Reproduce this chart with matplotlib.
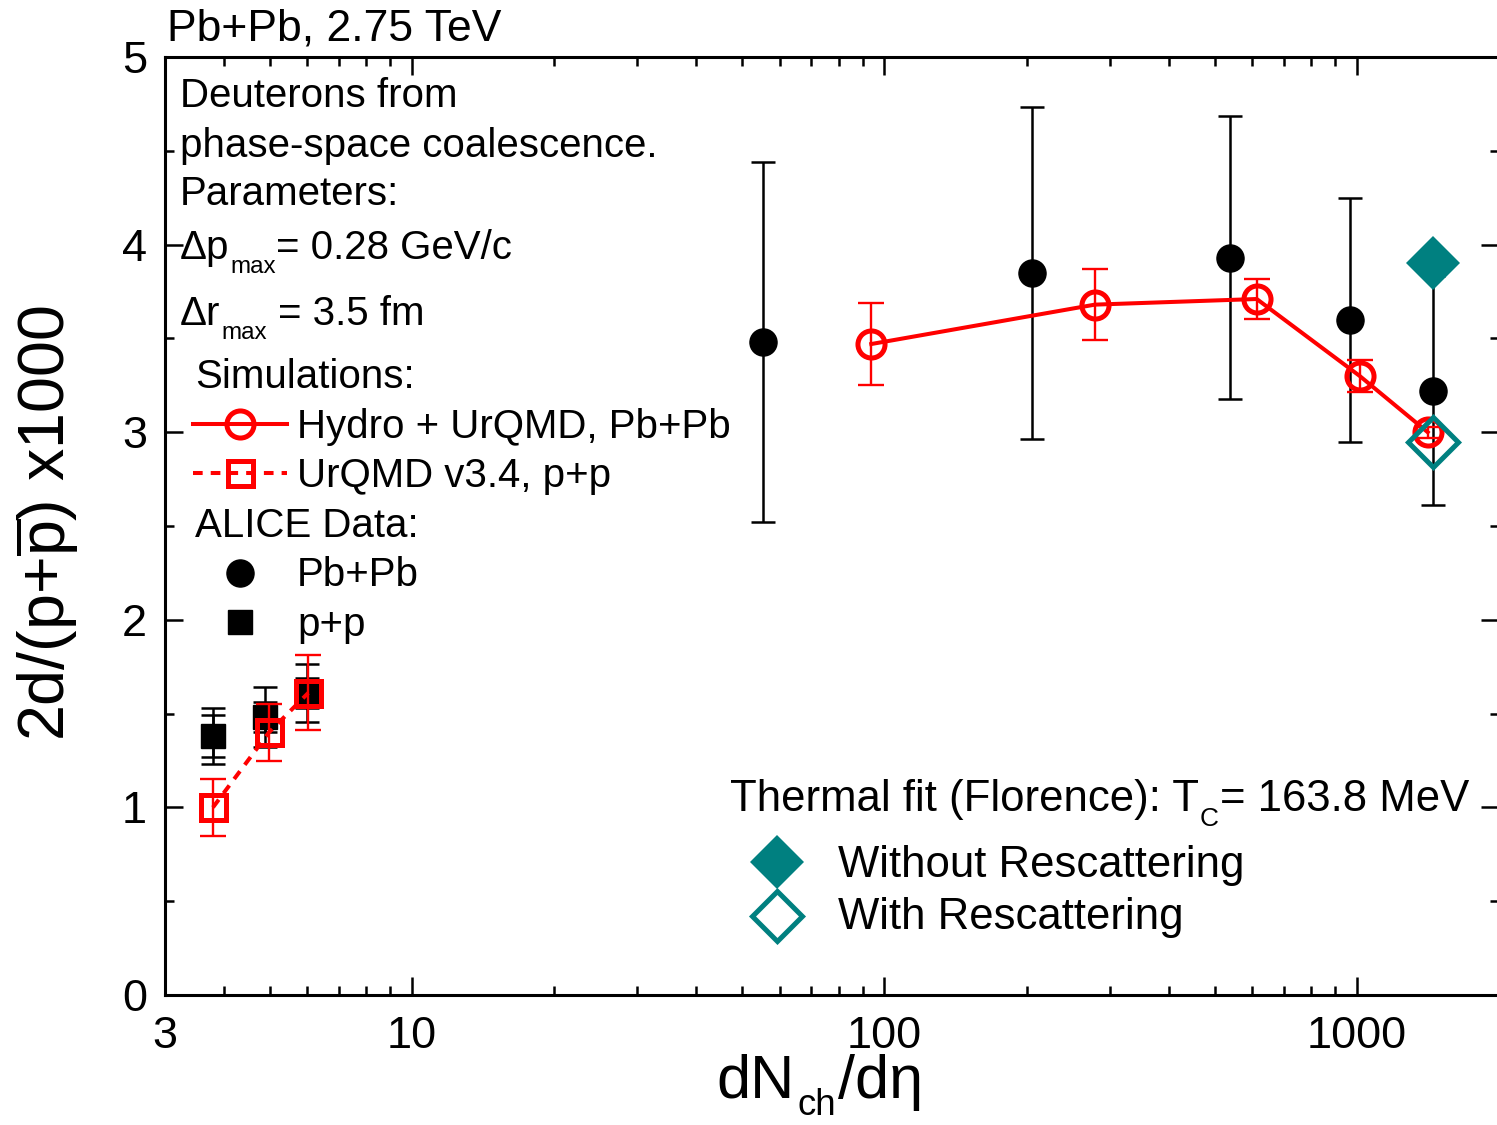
import matplotlib
matplotlib.use('Agg')
import matplotlib.pyplot as plt
from matplotlib.ticker import FixedLocator, LogLocator, MultipleLocator, NullFormatter

plt.rcParams['font.family'] = ['Liberation Sans', 'DejaVu Sans']
plt.rcParams['mathtext.fontset'] = 'custom'
plt.rcParams['mathtext.rm'] = 'Liberation Sans'
plt.rcParams['mathtext.it'] = 'Liberation Sans:italic'
plt.rcParams['mathtext.bf'] = 'Liberation Sans:bold'

# ALICE Pb+Pb
pbpb_x   = [55.4, 205, 538, 967, 1449]
pbpb_y   = [3.48, 3.85, 3.93, 3.60, 3.22]
pbpb_err = [0.96, 0.885, 0.755, 0.65, 0.61]

# ALICE p+p (stat, sys)
pp_x    = [3.79, 4.89, 6.0]
pp_y    = [1.38, 1.48, 1.61]
pp_stat = [0.11, 0.08, 0.08]
pp_sys  = [0.15, 0.16, 0.155]

# Hydro + UrQMD, Pb+Pb
hydro_x   = [93.8, 279, 614, 1014, 1413]
hydro_y   = [3.47, 3.68, 3.71, 3.30, 3.00]
hydro_err = [0.22, 0.19, 0.105, 0.085, 0.03]

# UrQMD v3.4, p+p
urqmd_x   = [3.79, 4.98, 6.03]
urqmd_y   = [1.00, 1.40, 1.61]
urqmd_err = [0.15, 0.15, 0.20]

# thermal fit (Florence)
therm_x       = [1449]
therm_without = [3.90]
therm_with    = [2.95]

W, H = 1497, 1125
L, R, T, B = 165, 1499, 57, 995
red = '#ff0000'
teal = '#008080'

fig = plt.figure(figsize=(W / 100, H / 100), dpi=100)
ax = fig.add_axes([L / W, 1 - B / H, (R - L) / W, (B - T) / H])
renderer = fig.canvas.get_renderer()


def ax_xy(px, py):
    return (px - L) / (R - L), (B - py) / (B - T)


def rich(px, py, parts, fs, drop=0.35):
    # parts: (text, is_subscript, gap in px before it)
    x = px
    for s, sub, gap in parts:
        x += gap
        size = fs * 0.6 if sub else fs
        dy = drop * fs * 100 / 72 if sub else 0
        t = fig.text(x / W, 1 - (py + dy) / H, s, fontsize=size, va='baseline')
        x = t.get_window_extent(renderer).x1


# data
ax.errorbar(pbpb_x, pbpb_y, yerr=pbpb_err, fmt='o', color='k', ms=19.5,
            elinewidth=1.8, capsize=8.5, capthick=1.8, zorder=2)
ax.errorbar(pp_x, pp_y, yerr=pp_sys, fmt='none', ecolor='k',
            elinewidth=1.8, capsize=8.5, capthick=1.8, zorder=2)
ax.errorbar(pp_x, pp_y, yerr=pp_stat, fmt='s', color='k', ms=17,
            elinewidth=1.8, capsize=8.5, capthick=1.8, zorder=2)

ax.errorbar(hydro_x, hydro_y, yerr=hydro_err, fmt='none', ecolor=red,
            elinewidth=1.7, capsize=9.5, capthick=1.7, zorder=3)
ax.plot(hydro_x, hydro_y, '-o', color=red, lw=2.9, ms=19.5, mfc='none',
        mew=3.6, zorder=4)
ax.errorbar(urqmd_x, urqmd_y, yerr=urqmd_err, fmt='none', ecolor=red,
            elinewidth=1.7, capsize=9.5, capthick=1.7, zorder=3)
ax.plot(urqmd_x, urqmd_y, 's', color=red, ls=(0, (2.4, 2.0)), lw=2.9,
        ms=18, mfc='none', mew=3.6, zorder=4)

ax.plot(therm_x, therm_without, 'D', color=teal, ms=27, mew=0, zorder=5)
ax.plot(therm_x, therm_with, 'D', color=teal, ms=25, mfc='none', mew=3.6,
        zorder=5)

# axes
ax.set_xscale('log')
ax.set_xlim(3, 2000)
ax.set_ylim(0, 5)
ax.xaxis.set_major_locator(FixedLocator([3, 10, 100, 1000]))
ax.set_xticklabels(['3', '10', '100', '1000'])
ax.xaxis.set_minor_locator(LogLocator(base=10, subs=range(2, 10), numticks=20))
ax.xaxis.set_minor_formatter(NullFormatter())
ax.yaxis.set_major_locator(MultipleLocator(1))
ax.yaxis.set_minor_locator(MultipleLocator(0.5))
ax.tick_params(which='both', direction='in', top=True, right=True, width=1.8)
ax.tick_params(which='major', length=13, labelsize=32.5)
ax.tick_params(which='minor', length=6.5)
ax.tick_params(axis='x', pad=15)
ax.tick_params(axis='y', pad=13)
for s in ax.spines.values():
    s.set_linewidth(2.2)

# axis labels and title
rich(716, 1098, [('dN', False, 0), ('ch', True, 3), ('/dη', False, 2)], 44,
     drop=0.28)
fig.text(47 / W, 1 - 523 / H, r'2d/(p+$\overline{\mathrm{p}}$) x1000',
         fontsize=46.5, rotation=90, ha='center', va='center')
fig.text(167 / W, 1 - 40 / H, 'Pb+Pb, 2.75 TeV', fontsize=32, va='baseline')

# left annotation / legend
fs = 29
lines = [
    (180, 107, 'Deuterons from'),
    (180, 157, 'phase-space coalescence.'),
    (180, 205, 'Parameters:'),
    (195, 388, 'Simulations:'),
    (297, 438, 'Hydro + UrQMD, Pb+Pb'),
    (297, 487, 'UrQMD v3.4, p+p'),
    (195, 537, 'ALICE Data:'),
    (297, 586, 'Pb+Pb'),
    (297, 636, 'p+p'),
]
for px, py, s in lines:
    fig.text(px / W, 1 - py / H, s, fontsize=fs, va='baseline')
rich(180, 259, [('Δp', False, 0), ('max', True, 1), ('= 0.28 GeV/c', False, 0)], fs)
rich(180, 325, [('Δr', False, 0), ('max', True, 1), ('= 3.5 fm', False, 11)], fs)

x0, y0 = ax_xy(193, 424)
x1, _ = ax_xy(287, 424)
xm, _ = ax_xy(240, 424)
ax.plot([x0, x1], [y0, y0], '-', color=red, lw=2.9, transform=ax.transAxes,
        clip_on=False)
ax.plot([xm], [y0], 'o', color=red, ms=19.5, mfc='none', mew=3.6,
        transform=ax.transAxes, clip_on=False)
_, y0 = ax_xy(0, 473)
ax.plot([x0, x1], [y0, y0], color=red, ls=(0, (2.4, 2.0)), lw=2.9,
        transform=ax.transAxes, clip_on=False)
ax.plot([xm], [y0], 's', color=red, ms=18, mfc='none', mew=3.6,
        transform=ax.transAxes, clip_on=False)
_, y0 = ax_xy(0, 573)
ax.plot([xm], [y0], 'o', color='k', ms=19.5, transform=ax.transAxes)
_, y0 = ax_xy(0, 622)
ax.plot([xm], [y0], 's', color='k', ms=17, transform=ax.transAxes)

# right legend
rich(730, 811, [('Thermal fit (Florence): T', False, 0), ('C', True, 1),
                ('= 163.8 MeV', False, 1)], 31.5)
xd, yd = ax_xy(777, 862)
ax.plot([xd], [yd], 'D', color=teal, ms=27, mew=0, transform=ax.transAxes)
_, yd = ax_xy(0, 916)
ax.plot([xd], [yd], 'D', color=teal, ms=25, mfc='none', mew=3.6,
        transform=ax.transAxes)
fig.text(838 / W, 1 - 877 / H, 'Without Rescattering', fontsize=31.5,
         va='baseline')
fig.text(838 / W, 1 - 929 / H, 'With Rescattering', fontsize=31.5,
         va='baseline')

fig.savefig('out.png', dpi=100)
